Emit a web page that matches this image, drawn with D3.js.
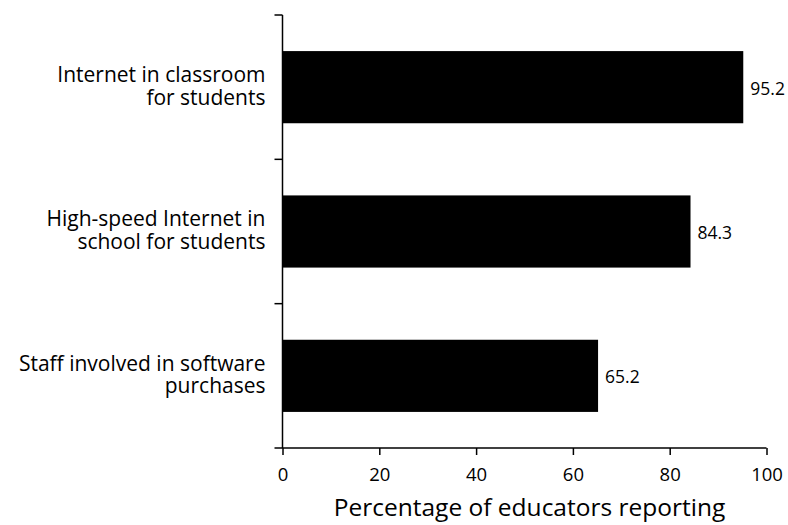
<!DOCTYPE html>
<html><head><meta charset="utf-8">
<script src="https://cdn.jsdelivr.net/npm/d3@7"></script>
<style>body{margin:0;background:#fff}svg{display:block}text{font-family:"Open Sans",sans-serif;fill:#000}</style>
</head><body>
<svg id="c" width="788" height="525"></svg>
<script>
const categories = ["Internet in classroom\nfor students", "High-speed Internet in\nschool for students", "Staff involved in software\npurchases"];
const values = [95.2, 84.3, 65.2];
const xTicks = [0, 20, 40, 60, 80, 100];
const xTitle = "Percentage of educators reporting";

const svg = d3.select("#c");
const x = d3.scaleLinear().domain([0, 100]).range([282.5, 766.5]);
const y = d3.scaleBand().domain(categories).range([15, 448]).paddingInner(0.5).paddingOuter(0.25);

// bars
svg.selectAll("rect.bar").data(values).join("rect")
  .attr("x", x(0)).attr("y", (d,i)=>y(categories[i]))
  .attr("width", d=>x(d)-x(0)).attr("height", y.bandwidth()).attr("fill","#000");

// value labels
svg.selectAll("text.val").data(values).join("text")
  .attr("x", d=>x(d)+7).attr("y", (d,i)=>y(categories[i])+y.bandwidth()/2)
  .attr("dy","0.42em").attr("font-size",17.5).text(d=>d.toFixed(1));

// y axis
const gap = (y.step()-y.bandwidth())/2;
svg.append("line").attr("x1",x(0)).attr("x2",x(0)).attr("y1",y.range()[0]).attr("y2",y.range()[1])
  .attr("stroke","#000").attr("stroke-width",1.5);
svg.selectAll("line.yt").data(categories).join("line")
  .attr("x1",x(0)-8).attr("x2",x(0)).attr("y1",d=>y(d)-gap).attr("y2",d=>y(d)-gap)
  .attr("stroke","#000").attr("stroke-width",1.5);

// category labels
categories.forEach((c,i)=>{
  const lines = c.split("\n");
  const t = svg.append("text").attr("text-anchor","end").attr("font-size",21);
  const cy = y(c)+y.bandwidth()/2;
  lines.forEach((l,j)=>{
    t.append("tspan").attr("x", x(0)-17).attr("y", cy + (j-(lines.length-1)/2)*22.7).attr("dy","0.3em").text(l);
  });
});

// x axis
const gx = svg.append("g").attr("transform",`translate(0,${y.range()[1]})`)
  .call(d3.axisBottom(x).tickValues(xTicks).tickSize(7).tickSizeOuter(0).tickPadding(12.5));
gx.select(".domain").remove();
gx.selectAll(".tick line").attr("stroke","#000").attr("stroke-width",1.5);
gx.selectAll(".tick text").attr("font-family","Open Sans").attr("font-size",18.5).attr("fill","#000");
gx.append("line").attr("x1",x(0)-8).attr("x2",x(100)).attr("y1",0).attr("y2",0).attr("stroke","#000").attr("stroke-width",1.5);

svg.append("text").attr("x",(335+724)/2).attr("y",516).attr("text-anchor","middle").attr("font-size",24.5).text(xTitle);
</script>
</body></html>
